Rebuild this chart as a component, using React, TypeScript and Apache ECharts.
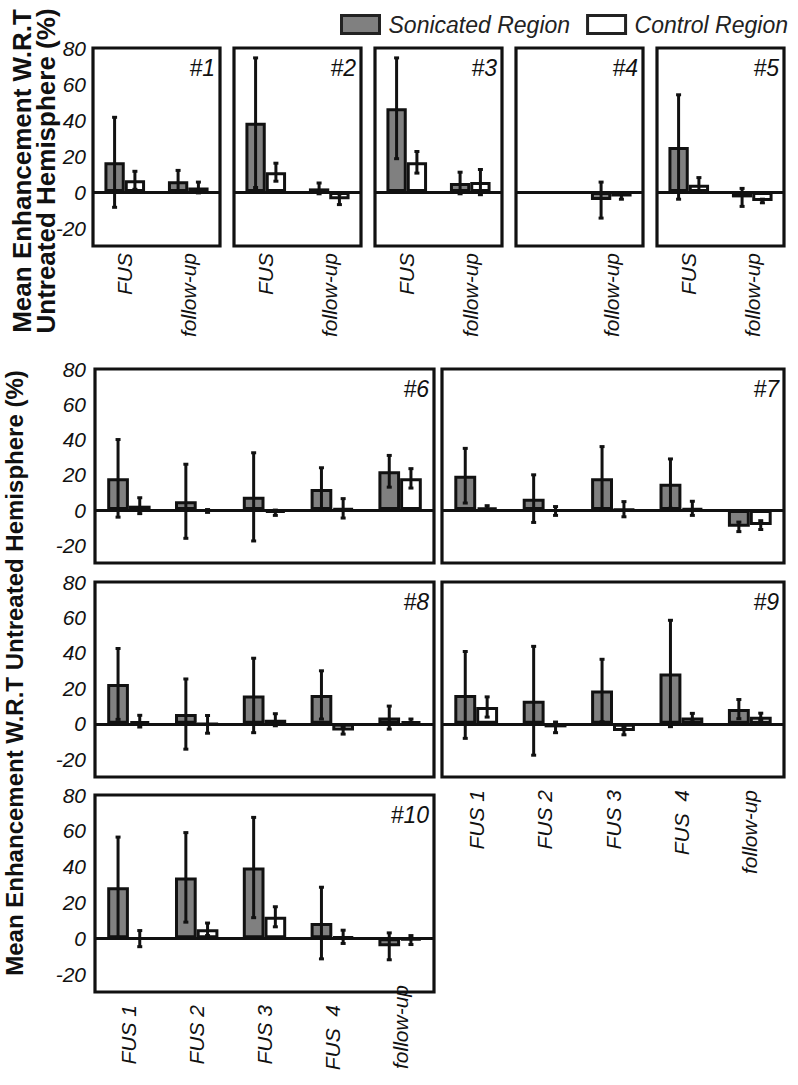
import React, { useEffect, useRef } from 'react';
import * as echarts from 'echarts';

const FONT = 'Liberation Sans, Arial, Helvetica, sans-serif';

// Categories
const topCats = ['FUS', 'follow-up'];
const multiCats = ['FUS 1', 'FUS 2', 'FUS 3', 'FUS  4', 'follow-up'];

// Y-axis ticks
const yMin = -30;
const yMax = 80;
const yStep = 10;
const yLabelStep = 20;

// Patient #1..#5 (FUS, follow-up)
const p1Son = [16.5, 6];
const p1SonErr = [25, 6];
const p1Ctl = [6.5, 2.5];
const p1CtlErr = [5, 3];

const p2Son = [38.5, 2];
const p2SonErr = [36, 3];
const p2Ctl = [11, -4];
const p2CtlErr = [5, 3];

const p3Son = [46.5, 5];
const p3SonErr = [28, 6];
const p3Ctl = [16.5, 5.5];
const p3CtlErr = [6, 7];

const p4Son = [null, -4.5];
const p4SonErr = [null, 10];
const p4Ctl = [null, -2.5];
const p4CtlErr = [null, 1.5];

const p5Son = [25, -3];
const p5SonErr = [29, 5];
const p5Ctl = [4, -5];
const p5CtlErr = [4, 1];

// Patient #6..#10 (FUS 1..4, follow-up)
const p6Son = [18, 5, 7.5, 12, 22];
const p6SonErr = [22, 21, 25, 12, 9];
const p6Ctl = [2.5, -0.5, -1.5, 1, 18];
const p6CtlErr = [4.5, 0.8, 1.5, 5.5, 5.5];

const p7Son = [19.5, 6.5, 18, 15, -9.5];
const p7SonErr = [15.5, 13.5, 18, 14, 2.7];
const p7Ctl = [1.5, -0.5, 0.5, 1, -8.5];
const p7CtlErr = [1, 2.5, 4.3, 4, 2.5];

const p8Son = [22.5, 5.5, 16, 16.3, 3.5];
const p8SonErr = [20, 19.8, 21, 13.6, 6.5];
const p8Ctl = [1.5, -0.3, 2.3, -3.8, 1.5];
const p8CtlErr = [3.3, 5, 3.4, 2, 1.2];

const p9Son = [16.3, 13, 18.8, 28.4, 8.3];
const p9SonErr = [24.5, 30.7, 17.6, 30, 5.4];
const p9Ctl = [9.5, -2, -4, 3.5, 4];
const p9CtlErr = [5.7, 3, 2.2, 2.4, 2];

const p10Son = [28.5, 34, 39.5, 8.5, -4.5];
const p10SonErr = [28, 25, 28, 20, 7.5];
const p10Ctl = [-0.2, 5, 12, 0.8, -1];
const p10CtlErr = [4.5, 3.5, 5.6, 3.7, 2.5];

const SON_NAME = 'Sonicated Region';
const CTL_NAME = 'Control Region';

const panels = [
  { label: '#1', cats: topCats, son: p1Son, sonErr: p1SonErr, ctl: p1Ctl, ctlErr: p1CtlErr },
  { label: '#2', cats: topCats, son: p2Son, sonErr: p2SonErr, ctl: p2Ctl, ctlErr: p2CtlErr },
  { label: '#3', cats: topCats, son: p3Son, sonErr: p3SonErr, ctl: p3Ctl, ctlErr: p3CtlErr },
  { label: '#4', cats: topCats, son: p4Son, sonErr: p4SonErr, ctl: p4Ctl, ctlErr: p4CtlErr },
  { label: '#5', cats: topCats, son: p5Son, sonErr: p5SonErr, ctl: p5Ctl, ctlErr: p5CtlErr },
  { label: '#6', cats: multiCats, son: p6Son, sonErr: p6SonErr, ctl: p6Ctl, ctlErr: p6CtlErr },
  { label: '#7', cats: multiCats, son: p7Son, sonErr: p7SonErr, ctl: p7Ctl, ctlErr: p7CtlErr },
  { label: '#8', cats: multiCats, son: p8Son, sonErr: p8SonErr, ctl: p8Ctl, ctlErr: p8CtlErr },
  { label: '#9', cats: multiCats, son: p9Son, sonErr: p9SonErr, ctl: p9Ctl, ctlErr: p9CtlErr },
  { label: '#10', cats: multiCats, son: p10Son, sonErr: p10SonErr, ctl: p10Ctl, ctlErr: p10CtlErr },
];

// Layout (pixel boxes for each panel) and axis label visibility
const layout = [
  { left: 93, top: 48, width: 127, height: 198, yLab: true, xLab: true, yMargin: 7, xMargin: 7 },
  { left: 234, top: 48, width: 127, height: 198, yLab: false, xLab: true, yMargin: 7, xMargin: 7 },
  { left: 375, top: 48, width: 127, height: 198, yLab: false, xLab: true, yMargin: 7, xMargin: 7 },
  { left: 516, top: 48, width: 127, height: 198, yLab: false, xLab: true, yMargin: 7, xMargin: 7 },
  { left: 657, top: 48, width: 127, height: 198, yLab: false, xLab: true, yMargin: 7, xMargin: 7 },
  { left: 95, top: 369, width: 339, height: 194, yLab: true, xLab: false, yMargin: 9, xMargin: 7 },
  { left: 442, top: 369, width: 342, height: 194, yLab: false, xLab: false, yMargin: 9, xMargin: 7 },
  { left: 95, top: 582, width: 339, height: 195, yLab: true, xLab: false, yMargin: 9, xMargin: 7 },
  { left: 442, top: 582, width: 342, height: 195, yLab: false, xLab: true, yMargin: 9, xMargin: 13 },
  { left: 95, top: 795, width: 339, height: 197, yLab: true, xLab: true, yMargin: 9, xMargin: -7, shiftFollow: true },
];

const INK = '#111';
const GRAY = '#808080';

function errSeries(i: number, vals: (number | null)[], errs: (number | null)[], sign: number) {
  const data = vals
    .map((v, k) => (v == null ? null : [k, v, errs[k] as number]))
    .filter((d) => d != null);
  return {
    type: 'custom',
    name: 'err' + i + '_' + sign,
    xAxisIndex: i,
    yAxisIndex: i,
    z: 5,
    silent: true,
    encode: { x: 0, y: 1 },
    renderItem: (params: any, api: any) => {
      const xi = api.value(0);
      const v = api.value(1);
      const e = api.value(2);
      const band = api.size([1, 0])[0];
      const off = sign * band * 0.16;
      const t = api.coord([xi, v + e]);
      const b = api.coord([xi, v - e]);
      const x = t[0] + off;
      const cap = 2.5;
      const st = { stroke: INK, lineWidth: 3 };
      return {
        type: 'group',
        children: [
          { type: 'line', shape: { x1: x, y1: t[1], x2: x, y2: b[1] }, style: st },
          { type: 'line', shape: { x1: x - cap, y1: t[1], x2: x + cap, y2: t[1] }, style: st },
          { type: 'line', shape: { x1: x - cap, y1: b[1], x2: x + cap, y2: b[1] }, style: st },
        ],
      };
    },
    data,
  };
}

function buildOption() {
  const grid: any[] = [];
  const xAxis: any[] = [];
  const yAxis: any[] = [];
  const series: any[] = [];
  const graphic: any[] = [];

  panels.forEach((p, i) => {
    const L = layout[i];
    grid.push({
      left: L.left,
      top: L.top,
      width: L.width,
      height: L.height,
      show: true,
      borderColor: INK,
      borderWidth: 3.2,
      backgroundColor: 'transparent',
    });
    const labelBase: any = {
      show: L.xLab,
      rotate: 90,
      margin: L.xMargin,
      fontSize: 21,
      fontStyle: 'italic',
      fontFamily: FONT,
      color: INK,
      interval: 0,
    };
    if ((L as any).shiftFollow) {
      labelBase.formatter = (v: string) => (v === 'follow-up' ? v : '{p|' + v + '}');
      labelBase.rich = {
        p: { padding: [0, 20, 0, 0], fontSize: 21, fontStyle: 'italic', fontFamily: FONT, color: INK },
      };
    } else {
      labelBase.formatter = (v: string, idx: number) => (p.son[idx] == null ? '' : v);
    }
    xAxis.push({
      type: 'category',
      gridIndex: i,
      data: p.cats,
      axisLine: { show: false, onZero: false },
      axisTick: { show: false },
      splitLine: { show: false },
      axisLabel: labelBase,
    });
    yAxis.push({
      type: 'value',
      gridIndex: i,
      min: yMin,
      max: yMax,
      interval: yStep,
      axisLine: { show: false },
      axisTick: { show: false },
      splitLine: { show: false },
      axisLabel: {
        show: L.yLab,
        margin: L.yMargin,
        fontSize: 21,
        fontStyle: 'italic',
        fontFamily: FONT,
        color: INK,
        formatter: (v: number) => (Math.round(v) % yLabelStep === 0 ? String(Math.round(v)) : ''),
      },
    });
    series.push({
      type: 'bar',
      name: SON_NAME,
      xAxisIndex: i,
      yAxisIndex: i,
      data: p.son.map((v) => (v == null ? '-' : v)),
      barGap: '0%',
      barCategoryGap: '36%',
      z: 2,
      itemStyle: { color: GRAY, borderColor: INK, borderWidth: 3 },
      markLine: {
        silent: true,
        symbol: 'none',
        label: { show: false },
        lineStyle: { color: INK, width: 3, type: 'solid' },
        data: [{ yAxis: 0 }],
      },
    });
    series.push({
      type: 'bar',
      name: CTL_NAME,
      xAxisIndex: i,
      yAxisIndex: i,
      data: p.ctl.map((v) => (v == null ? '-' : v)),
      barGap: '0%',
      barCategoryGap: '36%',
      z: 2,
      itemStyle: { color: '#ffffff', borderColor: INK, borderWidth: 3 },
    });
    series.push(errSeries(i, p.son, p.sonErr, -1));
    series.push(errSeries(i, p.ctl, p.ctlErr, 1));

    graphic.push({
      type: 'text',
      x: L.left + L.width - 5,
      y: L.top + 8,
      z: 10,
      style: {
        text: p.label,
        fontSize: 23,
        fontStyle: 'italic',
        fontFamily: FONT,
        fill: INK,
        align: 'right',
        verticalAlign: 'top',
      },
    });
  });

  graphic.push({
    type: 'text',
    x: 34,
    y: 171,
    rotation: Math.PI / 2,
    style: {
      text: 'Mean Enhancement W.R.T\nUntreated Hemisphere (%)',
      fontSize: 26,
      fontWeight: 'bold',
      fontFamily: FONT,
      fill: INK,
      align: 'center',
      verticalAlign: 'middle',
      lineHeight: 24,
    },
  });
  graphic.push({
    type: 'text',
    x: 14,
    y: 673,
    rotation: Math.PI / 2,
    style: {
      text: 'Mean Enhancement W.R.T Untreated Hemisphere (%)',
      fontSize: 24,
      fontWeight: 'bold',
      fontFamily: FONT,
      fill: INK,
      align: 'center',
      verticalAlign: 'middle',
    },
  });

  return {
    animation: false,
    backgroundColor: '#ffffff',
    textStyle: { fontFamily: FONT },
    legend: {
      left: 335,
      top: 8,
      itemWidth: 38,
      itemHeight: 18,
      itemGap: 16,
      icon: 'rect',
      selectedMode: false,
      data: [SON_NAME, CTL_NAME],
      itemStyle: { borderColor: '#222', borderWidth: 3 },
      textStyle: { fontSize: 23, fontStyle: 'italic', fontFamily: FONT, color: '#222', padding: [0, 0, 0, 4] },
    },
    grid,
    xAxis,
    yAxis,
    series,
    graphic,
  };
}

export default function App() {
  const ref = useRef<HTMLDivElement>(null);
  useEffect(() => {
    const chart = echarts.init(ref.current as HTMLDivElement, null, { renderer: 'svg' });
    chart.setOption(buildOption() as any);
    return () => chart.dispose();
  }, []);
  return (
    <div
      ref={ref}
      style={{ position: 'absolute', left: 0, top: 0, width: 798, height: 1085, background: '#fff' }}
    />
  );
}
